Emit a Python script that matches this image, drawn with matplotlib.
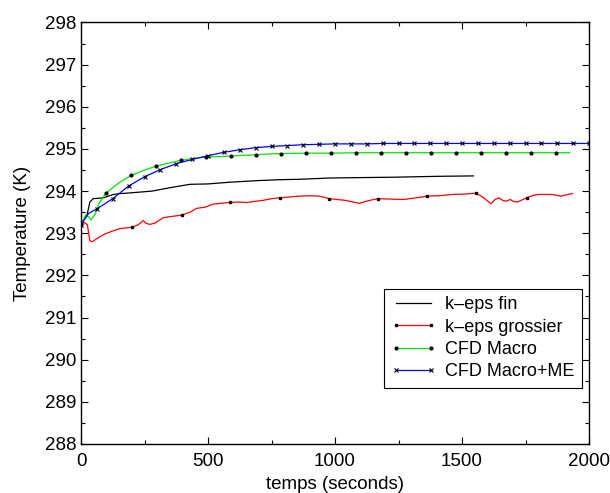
import matplotlib
matplotlib.use("Agg")
import matplotlib.pyplot as plt
from matplotlib.ticker import MultipleLocator

plt.rcParams['font.family'] = ['Liberation Sans', 'DejaVu Sans']

# k-eps fin (black, no markers)
t_fin = [0, 15, 25, 35, 48, 88, 127, 153, 200, 280, 350, 428, 500, 585, 700, 782,
         860, 978, 1100, 1240, 1400, 1545]
T_fin = [293.2, 293.35, 293.47, 293.74, 293.82, 293.84, 293.92, 293.94, 293.96, 294.0,
         294.08, 294.16, 294.17, 294.21, 294.25, 294.27, 294.28, 294.31, 294.32, 294.33,
         294.35, 294.36]

# k-eps grossier (red, square markers)
t_gro = [0, 15, 25, 35, 45, 62, 90, 114, 153, 199, 225, 245, 255, 270, 291, 324, 360,
         396, 430, 455, 490, 520, 550, 585, 620, 651, 690, 717, 750, 782, 820, 860, 900,
         939, 978, 1040, 1096, 1130, 1168, 1220, 1267, 1320, 1364, 1410, 1463, 1510,
         1555, 1581, 1614, 1630, 1646, 1660, 1673, 1690, 1700, 1718, 1754, 1780, 1804,
         1856, 1889, 1924, 1935]
T_gro = [293.25, 293.25, 293.2, 292.82, 292.8, 292.87, 292.97, 293.03, 293.11, 293.14,
         293.2, 293.3, 293.24, 293.21, 293.24, 293.37, 293.4, 293.43, 293.5, 293.59,
         293.62, 293.69, 293.71, 293.73, 293.74, 293.73, 293.76, 293.78, 293.82, 293.84,
         293.86, 293.88, 293.89, 293.88, 293.82, 293.78, 293.71, 293.77, 293.82, 293.81,
         293.8, 293.84, 293.88, 293.89, 293.92, 293.93, 293.95, 293.86, 293.7, 293.8,
         293.84, 293.78, 293.76, 293.8, 293.76, 293.74, 293.84, 293.9, 293.92, 293.92,
         293.88, 293.93, 293.94]
mk_gro = [0, 199, 396, 585, 782, 978, 1168, 1364, 1555, 1754]

# CFD Macro (green, dot markers)
t_mac = [0, 20, 40, 55, 70, 98, 150, 197, 250, 295, 350, 394, 450, 492, 550, 591, 640,
         689, 740, 787, 886, 984, 1083, 1181, 1280, 1378, 1476, 1575, 1673, 1772, 1870,
         1924]
T_mac = [293.22, 293.45, 293.32, 293.45, 293.7, 293.95, 294.2, 294.37, 294.5, 294.59,
         294.67, 294.73, 294.78, 294.81, 294.82, 294.83, 294.85, 294.86, 294.88, 294.89,
         294.9, 294.9, 294.91, 294.91, 294.91, 294.91, 294.91, 294.91, 294.91, 294.91,
         294.91, 294.91]
mk_mac = [0, 98, 197, 295, 394, 492, 591, 689, 787, 886, 984, 1083, 1181, 1280, 1378,
          1476, 1575, 1673, 1772, 1870]

# CFD Macro+ME (blue, x markers)
t_me = [0, 30, 62.5, 125, 187.5, 250, 312.5, 375, 437.5, 500, 562.5, 625, 687.5, 750,
        812.5, 875, 937.5, 1000, 1062.5, 1125, 1187.5, 1250, 1312.5, 1375, 1437.5, 1500,
        1562.5, 1625, 1687.5, 1750, 1812.5, 1875, 1937.5, 2000]
T_me = [293.2, 293.47, 293.58, 293.82, 294.12, 294.34, 294.51, 294.65, 294.75, 294.84,
        294.92, 294.98, 295.03, 295.06, 295.08, 295.1, 295.11, 295.12, 295.12, 295.12,
        295.13, 295.13, 295.13, 295.13, 295.13, 295.13, 295.13, 295.13, 295.13, 295.13,
        295.13, 295.13, 295.13, 295.13]
mk_me = [t for t in t_me if t != 30]


def idx(ts, marks):
    return [ts.index(m) for m in marks]


fig = plt.figure(figsize=(6.10, 4.93), dpi=100)
ax = fig.add_axes([0.1328, 0.0994, 0.8328, 0.855])

ax.plot(t_fin, T_fin, color='black', lw=0.9, label='k\u2013eps fin')
ax.plot(t_gro, T_gro, color='red', lw=0.9, marker='s', ms=2.0, mfc='black', mec='black',
        markevery=idx(t_gro, mk_gro), label='k\u2013eps grossier')
ax.plot(t_mac, T_mac, color='#00e600', lw=0.9, marker='o', ms=2.0, mfc='black', mec='black',
        markevery=idx(t_mac, mk_mac), label='CFD Macro')
ax.plot(t_me, T_me, color='blue', lw=0.9, marker='x', ms=3.5, mew=0.8, mfc='black', mec='black',
        markevery=idx(t_me, mk_me), label='CFD Macro+ME')

ax.set_xlim(0, 2000)
ax.set_ylim(288, 298)
ax.xaxis.set_major_locator(MultipleLocator(500))
ax.xaxis.set_minor_locator(MultipleLocator(250))
ax.yaxis.set_major_locator(MultipleLocator(1))
ax.yaxis.set_minor_locator(MultipleLocator(0.5))
ax.tick_params(which='both', direction='in', top=True, right=True, labelsize=13.5)
ax.tick_params(which='major', length=5, width=0.8)
ax.tick_params(which='minor', length=3, width=0.8)
ax.tick_params(axis='x', which='major', pad=6.5)
for s in ax.spines.values():
    s.set_linewidth(1.0)

ax.set_xlabel('temps (seconds)', fontsize=13.5, labelpad=4.5)
ax.set_ylabel('Temperature (K)', fontsize=13.5, labelpad=10)

leg = ax.legend(loc='upper left', bbox_to_anchor=(0.596, 0.368), borderaxespad=0,
                fontsize=13, handlelength=2.5, handletextpad=0.5, labelspacing=0.3,
                numpoints=2, fancybox=False, framealpha=1, edgecolor='black',
                borderpad=0.4)
leg.get_frame().set_linewidth(0.8)

fig.savefig('out.png', dpi=100)
